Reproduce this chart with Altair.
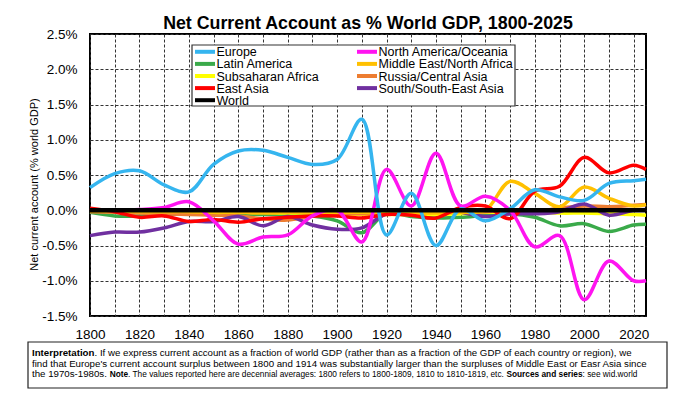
import altair as alt
import pandas as pd

# ---------------- data (values in % of world GDP) ----------------
years = [1800, 1810, 1820, 1830, 1840, 1850, 1860, 1870, 1880, 1890, 1900, 1910,
         1920, 1930, 1940, 1950, 1960, 1970, 1980, 1990, 2000, 2010, 2020, 2025]

europe = [0.32, 0.52, 0.56, 0.36, 0.26, 0.65, 0.84, 0.85, 0.75, 0.65, 0.72, 1.29,
          -0.35, 0.24, -0.50, 0.02, -0.15, 0.02, 0.29, 0.19, 0.14, 0.38, 0.42, 0.44]
north_america = [0.00, 0.00, 0.01, 0.04, 0.12, -0.15, -0.48, -0.38, -0.35, -0.08, 0.00, -0.45,
                 0.58, 0.06, 0.81, 0.06, 0.20, 0.00, -0.52, -0.36, -1.27, -0.72, -1.00, -1.00]
latin_america = [-0.03, -0.08, -0.08, -0.06, -0.05, -0.05, -0.05, -0.06, -0.06, -0.08, -0.15, -0.32,
                 -0.04, -0.09, -0.11, -0.10, -0.07, -0.05, -0.10, -0.22, -0.19, -0.30, -0.21, -0.20]
mena = [-0.01, -0.01, -0.02, -0.02, -0.02, -0.03, -0.03, -0.04, -0.03, -0.03, -0.03, -0.03,
        -0.04, -0.04, -0.04, -0.03, 0.00, 0.41, 0.24, 0.05, 0.33, 0.17, 0.06, 0.08]
subsaharan = [-0.01, -0.02, -0.02, -0.02, -0.03, -0.03, -0.03, -0.03, -0.04, -0.04, -0.05, -0.06,
              -0.06, -0.06, -0.06, -0.05, -0.03, -0.03, -0.02, -0.04, -0.04, -0.05, -0.06, -0.07]
russia = [-0.02, -0.03, -0.04, -0.05, -0.06, -0.07, -0.08, -0.12, -0.14, -0.08, -0.05, -0.05,
          -0.04, -0.04, -0.03, -0.03, -0.02, 0.00, -0.02, 0.03, 0.06, 0.05, 0.07, 0.08]
east_asia = [0.03, -0.02, -0.10, -0.08, -0.16, -0.13, -0.17, -0.12, -0.10, -0.08, -0.08, -0.11,
             -0.06, -0.07, -0.11, 0.04, 0.06, -0.12, 0.27, 0.34, 0.75, 0.53, 0.64, 0.58]
south_asia = [-0.36, -0.31, -0.31, -0.25, -0.16, -0.16, -0.09, -0.22, -0.09, -0.21, -0.27, -0.25,
              -0.05, -0.01, 0.00, -0.03, -0.09, -0.05, -0.05, -0.02, 0.09, -0.07, 0.00, 0.01]
world = [0.0] * len(years)

# legend order (row-major, 2 columns)
legend_order = ["Europe", "North America/Oceania", "Latin America", "Middle East/North Africa",
                "Subsaharan Africa", "Russia/Central Asia", "East Asia", "South/South-East Asia", "World"]
legend_colors = ["#35B5EF", "#FF14F0", "#3AAA4A", "#FFC000", "#FFFF00", "#ED7D31", "#FF0000",
                 "#7030A0", "#000000"]

# drawing order
draw_order = ["Latin America", "Subsaharan Africa", "Russia/Central Asia", "South/South-East Asia",
              "Middle East/North Africa", "East Asia", "North America/Oceania", "Europe"]
series = {
    "Europe": europe, "North America/Oceania": north_america, "Latin America": latin_america,
    "Middle East/North Africa": mena, "Subsaharan Africa": subsaharan,
    "Russia/Central Asia": russia, "East Asia": east_asia,
    "South/South-East Asia": south_asia, "World": world,
}

rows = []
for i, name in enumerate(draw_order):
    for yr, v in zip(years, series[name]):
        rows.append({"year": yr, "value": v, "region": name, "k": i})
df = pd.DataFrame(rows)
df_world = pd.DataFrame({"year": years, "value": world, "region": "World"})

title_text = "Net Current Account as % World GDP, 1800-2025"
y_title = "Net current account (% world GDP)"

# ---------------- note box text ----------------
REG = {' ': 278, '!': 278, "'": 191, '(': 333, ')': 333, ',': 278, '-': 333, '.': 278, '/': 278,
       ':': 278, ';': 278, '%': 889,
       'A': 667, 'B': 667, 'C': 722, 'D': 722, 'E': 667, 'F': 611, 'G': 778, 'H': 722, 'I': 278,
       'J': 500, 'K': 667, 'L': 556, 'M': 833, 'N': 722, 'O': 778, 'P': 667, 'Q': 778, 'R': 722,
       'S': 667, 'T': 611, 'U': 722, 'V': 667, 'W': 944, 'X': 667, 'Y': 667, 'Z': 611,
       'a': 556, 'b': 556, 'c': 500, 'd': 556, 'e': 556, 'f': 278, 'g': 556, 'h': 556, 'i': 222,
       'j': 222, 'k': 500, 'l': 222, 'm': 833, 'n': 556, 'o': 556, 'p': 556, 'q': 556, 'r': 333,
       's': 500, 't': 278, 'u': 556, 'v': 500, 'w': 722, 'x': 500, 'y': 500, 'z': 500}
BOLD = {' ': 278, '.': 278, ':': 333, 'I': 278, 'N': 722, 'S': 667,
        'a': 556, 'c': 556, 'd': 611, 'e': 556, 'i': 278, 'n': 611, 'o': 611, 'p': 611,
        'r': 389, 's': 556, 't': 333, 'u': 611}


def tw(s, bold, size):
    tbl = BOLD if bold else REG
    return sum(tbl.get(c, 556) for c in s) / 1000.0 * size


FS = 9.7      # regular note text
FSN = 8.3     # "condensed" part of the last line
note_lines = [
    [("Interpretation", True, FS),
     (". If we express current account as a fraction of world GDP (rather than as a fraction of the GDP of each country or region), we", False, FS)],
    [("find that Europe's current account surplus between 1800 and 1914 was substantially larger than the surpluses of Middle East or Easr Asia since", False, FS)],
    [("the 1970s-1980s. ", False, FS), ("Note", True, FSN),
     (". The values reported here are decennial averages: 1800 refers to 1800-1809, 1810 to 1810-1819, etc. ", False, FSN),
     ("Sources and series", True, FSN), (": see wid.world", False, FSN)],
]
line_y = [322, 332.7, 343.3]
x0 = -58
seg_rows = []
for li, segs in enumerate(note_lines):
    x = x0
    for text, bold, size in segs:
        seg_rows.append({"t": text, "px": x, "py": line_y[li], "bold": bold, "size": size})
        x += tw(text, bold, size)
seg = pd.DataFrame(seg_rows)

# ---------------- legend layout (2 columns, row-major) ----------------
LEG_BOX = (102, 425, 11, 72)
col_x = [105, 267]
row_y0, row_dy, sym_len = 17.8, 12.1, 20
leg_rows = []
for i, name in enumerate(legend_order):
    r, c = divmod(i, 2)
    leg_rows.append({"region": name, "sx": col_x[c], "sx2": col_x[c] + sym_len,
                     "tx": col_x[c] + sym_len + 1.5, "ly": row_y0 + r * row_dy})
leg = pd.DataFrame(leg_rows)

# ---------------- chart ----------------
W, H = 556, 282
color_scale = alt.Scale(domain=legend_order, range=legend_colors)
x_enc = alt.X("year:Q", scale=alt.Scale(domain=[1800, 2025], nice=False, zero=False),
              axis=alt.Axis(values=list(range(1800, 2030, 10)),
                            labelExpr="datum.value % 20 == 0 ? datum.value : ''",
                            grid=True, gridDash=[3, 2], gridColor="#333333", gridWidth=1,
                            ticks=False, domain=False, labelFlush=False, labelOverlap=False,
                            labelFont="Liberation Sans", labelFontSize=13.5, labelColor="black",
                            labelPadding=11, title=None))
y_enc = alt.Y("value:Q", scale=alt.Scale(domain=[-1.5, 2.5], nice=False, zero=False),
              axis=alt.Axis(values=[-1.5, -1.0, -0.5, 0.0, 0.5, 1.0, 1.5, 2.0, 2.5],
                            labelExpr="(datum.value < 0 ? '-' : '') + format(abs(datum.value), '.1f') + '%'",
                            grid=True, gridDash=[3, 2], gridColor="#333333", gridWidth=1,
                            ticks=False, domain=False, labelOverlap=False, labelFlush=False,
                            labelBound=False, labelSeparation=0,
                            labelFont="Liberation Sans", labelFontSize=13.5, labelColor="black",
                            labelPadding=13, title=y_title, titleFont="Liberation Sans",
                            titleFontSize=11, titleFontWeight="normal", titleColor="black",
                            titleX=-56, titleY=150, titleBaseline="middle", titleAngle=270))
color_enc = alt.Color("region:N", scale=color_scale, legend=None)

lines = alt.Chart(df).mark_line(interpolate="catmull-rom", strokeWidth=3.5).encode(
    x=x_enc, y=y_enc, color=color_enc, order=alt.Order("k:Q"), detail="region:N")
world_line = alt.Chart(df_world).mark_line(strokeWidth=4.5).encode(
    x=x_enc, y=y_enc, color=color_enc)

# legend box, symbols and labels
leg_box_df = pd.DataFrame({"x1": [LEG_BOX[0]], "x2": [LEG_BOX[1]], "y1": [LEG_BOX[2]], "y2": [LEG_BOX[3]]})
leg_box = alt.Chart(leg_box_df).mark_rect(fill="white", stroke="#333333", strokeWidth=1.2).encode(
    x=alt.X("x1:Q", scale=None), x2="x2:Q", y=alt.Y("y1:Q", scale=None), y2="y2:Q")
leg_sym = alt.Chart(leg).mark_rule(strokeWidth=4).encode(
    x=alt.X("sx:Q", scale=None), x2="sx2:Q", y=alt.Y("ly:Q", scale=None),
    color=alt.Color("region:N", scale=color_scale, legend=None))
leg_txt = alt.Chart(leg).mark_text(font="Liberation Sans", fontSize=12.5, align="left",
                                   baseline="middle", color="black", dy=0.5).encode(
    x=alt.X("tx:Q", scale=None), y=alt.Y("ly:Q", scale=None), text="region:N")

title_df = pd.DataFrame({"t": [title_text], "px": [W / 2], "py": [-5]})
title_mark = alt.Chart(title_df).mark_text(font="Liberation Sans", fontSize=17.8, fontWeight="bold",
                                           align="center", baseline="alphabetic", color="black").encode(
    x=alt.X("px:Q", scale=None), y=alt.Y("py:Q", scale=None), text="t:N")

box_df = pd.DataFrame({"x1": [-62], "x2": [577], "y1": [308], "y2": [354]})
box = alt.Chart(box_df).mark_rect(fill="white", stroke="#222222", strokeWidth=1.2).encode(
    x=alt.X("x1:Q", scale=None), x2="x2:Q", y=alt.Y("y1:Q", scale=None), y2="y2:Q")


def note_layer(bold, size):
    d = seg[(seg.bold == bold) & (seg["size"] == size)]
    return alt.Chart(d).mark_text(
        font="Liberation Sans", fontSize=size, fontWeight="bold" if bold else "normal",
        align="left", baseline="alphabetic", color="black").encode(
        x=alt.X("px:Q", scale=None), y=alt.Y("py:Q", scale=None), text="t:N")


chart = alt.layer(
    lines, world_line, leg_box, leg_sym, leg_txt, title_mark, box,
    note_layer(False, FS), note_layer(True, FS), note_layer(False, FSN), note_layer(True, FSN)
).properties(
    width=W, height=H,
    autosize=alt.AutoSizeParams(type="none"),
    padding={"left": 82, "top": 26, "right": 24, "bottom": 78},
    background="white",
).configure_view(stroke="black", strokeWidth=2).configure_axis(labelOverlap=False)

chart.save("out.html", embed_options={"renderer": "svg", "actions": False})
